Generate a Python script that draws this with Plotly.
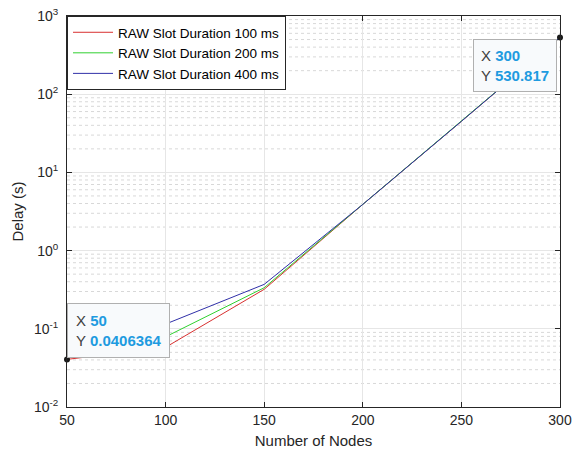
import numpy as np
import plotly.graph_objects as go

nodes = [50, 100, 150, 200, 250, 300]
delay_100ms = [0.0406364, 0.058, 0.32, 3.9, 45, 530.817]
delay_200ms = [0.043, 0.079, 0.335, 3.9, 45, 530.817]
delay_400ms = [0.047, 0.115, 0.37, 3.9, 45, 530.817]
series_names = ["RAW Slot Duration 100 ms", "RAW Slot Duration 200 ms", "RAW Slot Duration 400 ms"]
series_colors = ["#D83030", "#30D030", "#3030A8"]
y_tick_vals = [0.01, 0.1, 1, 10, 100, 1000]
y_tick_text = ["10<sup>-2</sup>", "10<sup>-1</sup>", "10<sup>0</sup>", "10<sup>1</sup>", "10<sup>2</sup>", "10<sup>3</sup>"]
x_tick_vals = [50, 100, 150, 200, 250, 300]

FONT = "Liberation Sans, Arial, Helvetica, sans-serif"

fig = go.Figure()
for name, ys, col in zip(series_names, [delay_100ms, delay_200ms, delay_400ms], series_colors):
    fig.add_trace(go.Scatter(x=nodes, y=ys, mode="lines", name=name,
                             line=dict(color=col, width=1)))

# minor dotted grid lines (log decades 2..9)
shapes = []
for d in range(-2, 3):
    for k in range(2, 10):
        v = k * 10.0 ** d
        shapes.append(dict(type="line", xref="paper", x0=0, x1=1, yref="y",
                           y0=v, y1=v,
                           line=dict(color="#D8D8D8", width=1, dash="dot"), layer="below"))
fig.update_layout(shapes=shapes)

# data tip markers
fig.add_trace(go.Scatter(x=[nodes[0], nodes[-1]], y=[delay_100ms[0], delay_100ms[-1]],
                         mode="markers", marker=dict(color="#1a1a1a", size=6),
                         showlegend=False, cliponaxis=False, hoverinfo="skip"))

blue = "#1E9BE0"
def tip(xv, yv):
    return (f"X <span style='color:{blue}'><b>{xv:g}</b></span><br>"
            f"Y <span style='color:{blue}'><b>{yv:g}</b></span>")

fig.add_annotation(x=nodes[0], y=np.log10(delay_100ms[0]), xref="x", yref="y",
                   text=tip(nodes[0], delay_100ms[0]), showarrow=False,
                   xanchor="left", yanchor="bottom", xshift=0, yshift=1, align="left",
                   bgcolor="#F8FAFC", bordercolor="#B0B0B0", borderwidth=1, borderpad=8,
                   font=dict(family=FONT, size=15, color="#404040"))
fig.add_annotation(x=nodes[-1], y=np.log10(delay_100ms[-1]), xref="x", yref="y",
                   text=tip(nodes[-1], delay_100ms[-1]), showarrow=False,
                   xanchor="right", yanchor="top", xshift=-3, yshift=-1, align="left",
                   bgcolor="#F8FAFC", bordercolor="#B0B0B0", borderwidth=1, borderpad=7,
                   font=dict(family=FONT, size=15, color="#404040"))

fig.update_layout(
    width=572, height=454,
    margin=dict(l=67, r=12, t=16, b=47),
    paper_bgcolor="white", plot_bgcolor="white",
    font=dict(family=FONT, size=14, color="#262626"),
    showlegend=True,
    legend=dict(x=0, y=1.0, xanchor="left", yanchor="top", bgcolor="white",
                bordercolor="#262626", borderwidth=1,
                font=dict(size=13.5, color="#000000"),
                itemwidth=40, tracegroupgap=0),
    xaxis=dict(range=[50, 300], tickvals=x_tick_vals, showgrid=True, gridcolor="#E6E6E6",
               showline=True, linecolor="#262626", linewidth=1, mirror="ticks",
               ticks="inside", ticklen=5, tickcolor="#262626", zeroline=False,
               automargin=False, tickfont=dict(size=14),
               title=dict(text="Number of Nodes", font=dict(size=15), standoff=8)),
    yaxis=dict(type="log", range=[-2, 3], tickvals=y_tick_vals, ticktext=y_tick_text,
               showgrid=True, gridcolor="#E6E6E6",
               showline=True, linecolor="#262626", linewidth=1, mirror="ticks",
               ticks="inside", ticklen=5, tickcolor="#262626", zeroline=False,
               automargin=False, tickfont=dict(size=14), ticklabelstandoff=5,
               title=dict(text="Delay (s)", font=dict(size=15), standoff=6)),
)

fig.write_html("out.html")
